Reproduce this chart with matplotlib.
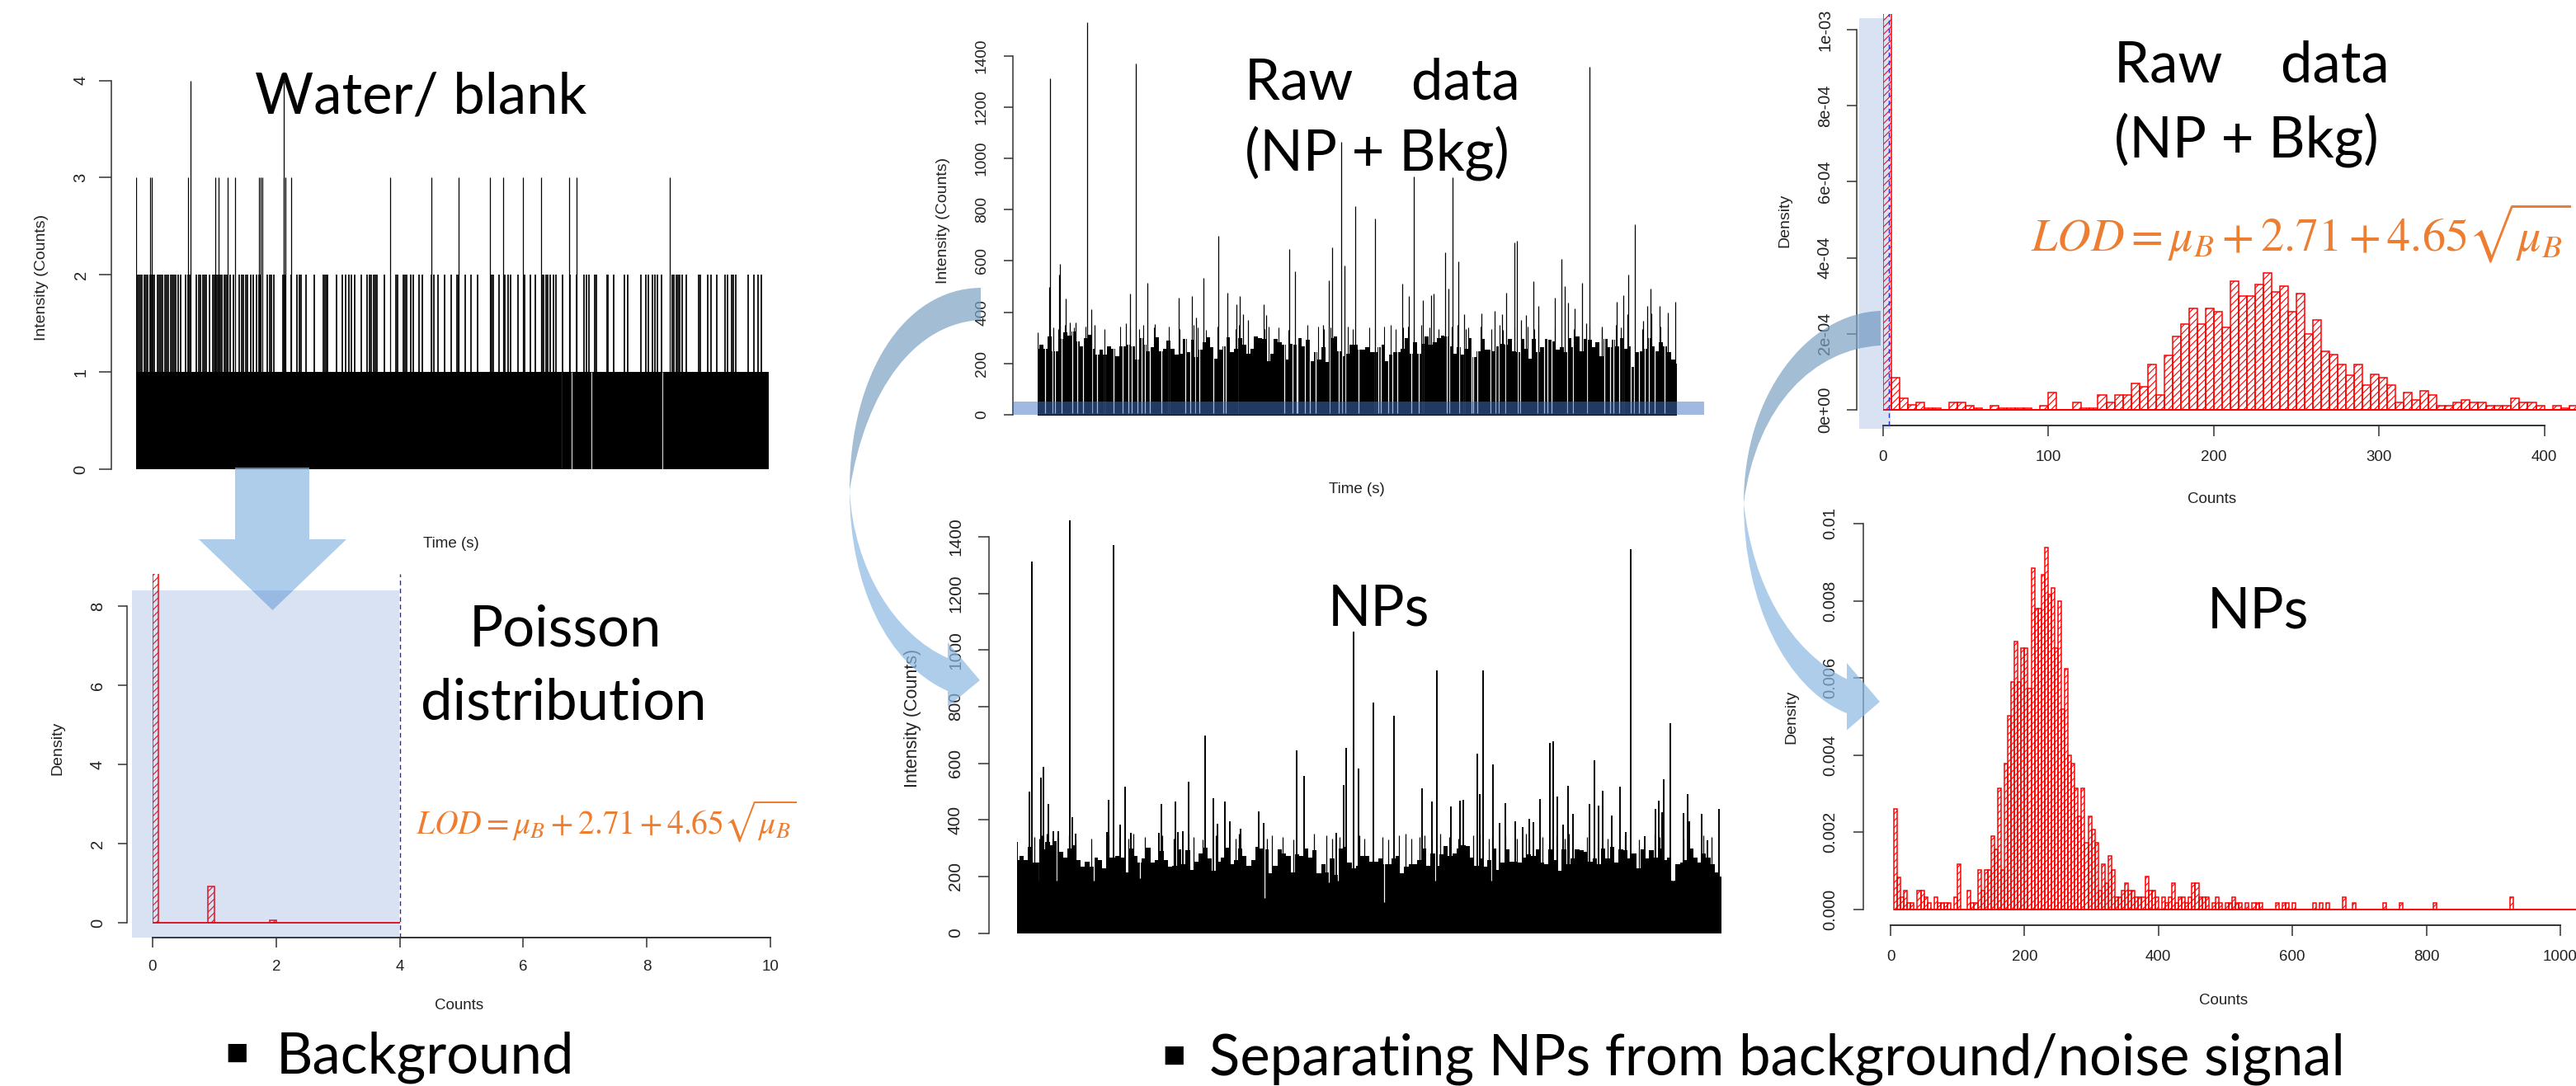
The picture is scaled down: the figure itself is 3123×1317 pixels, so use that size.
"""
Background / NP separation slide: time traces, histograms and annotations.
Panels and shapes are placed in pixel positions of the 3123x1317 slide image.
"""

import matplotlib

matplotlib.use("Agg")

import matplotlib.pyplot as plt
import numpy as np
from matplotlib.patches import PathPatch, Polygon, Rectangle
from matplotlib.path import Path
from matplotlib.transforms import Bbox

W, H = 3123, 1317
PT = 0.72  # points per pixel at dpi=100

plt.rcParams["font.family"] = ["Liberation Sans", "DejaVu Sans"]
plt.rcParams["mathtext.fontset"] = "stix"
plt.rcParams["hatch.linewidth"] = 0.8

# ---------------------------------------------------------------------------
# Data
# ---------------------------------------------------------------------------

# water blank trace, time in acquisition index
water_two_time = [
    260, 263, 266, 270, 274, 277, 281, 285, 288, 290, 293, 299, 303, 306, 309, 313, 316, 320,
    324, 327, 330, 334, 339, 344, 353, 358, 361, 373, 377, 381, 385, 389, 392, 398, 405, 408,
    412, 415, 418, 422, 426, 430, 433, 438, 444, 455, 459, 463, 467, 471, 476, 481, 487, 492,
    496, 508, 512, 516, 520, 538, 543, 553, 565, 569, 572, 581, 598, 614, 617, 620, 623, 640,
    650, 657, 663, 667, 674, 687, 698, 702, 706, 710, 713, 717, 730, 753, 756, 767, 770, 773,
    780, 786, 797, 803, 820, 825, 832, 845, 857, 868, 872, 884, 895, 907, 934, 938, 948, 960,
    965, 971, 985, 997, 1008, 1017, 1030, 1033, 1037, 1041, 1045, 1052, 1057, 1069, 1083, 1095,
    1110, 1114, 1119, 1130, 1133, 1153, 1156, 1167, 1186, 1193, 1218, 1228, 1232, 1240, 1244,
    1250, 1257, 1277, 1281, 1285, 1289, 1292, 1296, 1305, 1328, 1331, 1345, 1352, 1362, 1378,
    1382, 1390, 1394, 1398, 1422, 1433, 1440, 1447,
]
water_three_time = [
    258, 286, 288, 358, 409, 416, 432, 446, 492, 495, 498, 540, 542, 553, 741, 820, 872, 931,
    956, 994, 1028, 1081, 1095, 1273,
]
water_four_time = [362, 540]
water_gap_time = [1067, 1087, 1124, 1259]

# blank histogram
blank_left = [0.0, 0.9, 1.9]
blank_density = [9.0, 0.92, 0.07]
blank_lod = 4.0

# shared sample background level, NP trace read at even steps
bkg_level = [
    258, 273, 258, 306, 248, 248, 297, 321, 310, 326, 287, 268, 300, 311, 258, 234, 253, 234,
    268, 258, 229, 268, 268, 273, 268, 214, 300, 273, 248, 263, 302, 248, 258, 290, 258, 234,
    239, 295, 243, 292, 224, 253, 282, 302, 263, 219, 253, 268, 302, 243, 258, 300, 273, 239,
    258, 305, 300, 297, 210, 239, 297, 282, 273, 214, 277, 273, 300, 268, 292, 210, 243, 214,
    263, 205, 300, 305, 248, 229, 239, 273, 273,
    253, 253, 263, 243, 243, 263, 273, 210, 234, 243, 243, 258, 300, 239, 282, 239, 277, 307,
    273, 282, 300, 310, 307, 268, 239, 263, 234, 258, 300, 224, 248, 297, 253, 253, 248, 268,
    277, 273, 297, 248, 243, 297, 258, 219, 295, 243, 263, 297, 292, 287, 253, 263, 243, 300,
    263, 305, 248, 295, 292, 263, 282, 229, 297, 263, 292, 268, 300, 258, 268, 185, 243, 248,
    258, 300, 268, 248, 282, 268, 243, 214, 200,
]

raw_spike_time = [
    368, 389, 388, 406, 405, 417, 424, 433, 454, 461, 467, 538, 520, 527, 557, 570, 612, 634,
    642, 655, 680, 696, 712, 717, 722, 731, 758, 762, 802, 813, 861, 871, 876, 892, 898, 917,
    951, 997, 1009, 1017, 1033, 1047, 1052, 1072, 1077, 1084, 1094, 1104, 1134, 1157, 1170,
    1177, 1191, 1195, 1203, 1212, 1224, 1232, 1261, 1272, 1278, 1284, 1295, 1308, 1321, 1315,
    1343, 1368, 1379, 1388, 1386, 1399, 1414, 1421, 1426, 1428, 1442, 1456, 1469,
]
raw_spike_counts = [
    321, 1312, 498, 588, 548, 454, 360, 360, 1530, 410, 350, 1369, 358, 472, 515, 354, 456, 463,
    378, 535, 697, 476, 430, 463, 393, 371, 430, 388, 645, 558, 352, 525, 653, 1065, 581, 815,
    765, 512, 463, 929, 446, 467, 472, 632, 493, 926, 597, 391, 395, 404, 391,
    476, 673, 677, 371, 388, 521, 424, 456, 607, 503, 437, 415, 516, 1357, 358,
    345, 441, 466, 545, 391, 743, 365, 424, 492, 394, 424, 398, 440,
]
# thin lines rising just above the background, in raw-trace index
thin_spike_time = [
    395, 403, 407, 415, 423, 431, 450, 460, 484, 511, 528, 543, 550, 569, 595, 613, 637, 644,
    659, 679, 710, 716, 760, 767, 784, 801, 834, 853, 862, 874, 904, 912, 941, 950, 966, 977,
    986, 999, 1007, 1018, 1031, 1045, 1060, 1083, 1093, 1108, 1112, 1133, 1152, 1166, 1171,
    1192, 1214, 1226, 1233, 1261, 1294, 1321, 1343, 1367, 1375, 1412, 1443, 1457,
]
thin_spike_counts = [
    340, 335, 345, 350, 335, 340, 345, 330, 335, 345, 340, 335, 350, 340, 345, 335, 350, 340,
    330, 345, 335, 350, 335, 345, 340, 330, 350, 345, 335, 340, 345, 335, 340, 330, 345, 350,
    335, 340, 345, 330, 350, 340, 335, 345, 350, 335, 340, 345, 335, 350, 330,
    340, 345, 335, 350, 340, 335, 345, 330, 350, 340, 335, 345, 340,
]
raw_dropout_time = [
    381, 393, 398, 409, 428, 436, 447, 462, 471, 484, 499, 515, 524, 531, 541, 548, 553, 562,
    582, 594, 623, 631, 640, 647, 672, 689, 693, 715, 794, 808, 815, 817, 830, 838, 848, 872,
    888, 893, 900, 922, 950, 956, 961, 974, 980, 989, 1013, 1026, 1033, 1074, 1079, 1096, 1105,
    1117, 1120, 1127, 1150, 1159, 1164, 1176, 1197, 1202, 1231, 1242, 1248, 1255, 1283, 1292,
    1317, 1347, 1357, 1363, 1372, 1380, 1392, 1398, 1406, 1417, 1424, 1433, 1451,
]

np_spike_time = [
    332, 353, 357, 373, 378, 386, 395, 403, 423, 427, 433, 490, 487, 499, 510, 518, 528, 577,
    582, 605, 610, 618, 628, 657, 671, 678, 691, 699, 718, 750, 758, 815, 828, 884, 896, 900,
    914, 922, 948, 983, 1031, 1049, 1058, 1081, 1097, 1103, 1127, 1132, 1137, 1154, 1165, 1175,
    1193, 1205, 1217, 1224, 1236, 1252, 1258, 1265, 1275, 1284, 1293, 1321, 1330, 1337, 1344,
    1359, 1374, 1383, 1392, 1416, 1435, 1441, 1447, 1449, 1460, 1483, 1490, 1494, 1515, 1525,
    1545,
]
np_spike_counts = [
    321, 500, 1312, 548, 588, 455, 361, 361, 1530, 409, 351, 471, 357, 1370, 383, 517, 354, 354,
    455, 464, 357, 361, 536, 698, 477, 386, 464, 394, 370, 431, 390, 646, 556, 355, 523, 653,
    1066, 580, 815, 767, 512, 464, 929, 447, 468, 472, 633, 491, 929, 597, 390, 460,
    395, 374, 403, 392, 474, 672, 677, 483, 382, 519, 422, 455, 610, 451, 504,
    416, 517, 356, 1357, 342, 439, 468, 426, 544, 742, 424, 492, 395, 422, 329,
    439,
]
np_notch_time = [370, 401, 464, 544, 759, 870, 886, 966, 1055, 1151, 1465]
np_notch_counts = [185, 185, 185, 195, 124, 178, 185, 110, 185, 185, 185]

# raw sample histogram, 5-count bins starting at 0, density in 1e-4
raw_hist_density = [
    11.0, 0.855, 0.305, 0.12, 0.2, 0.05, 0.05, 0.0, 0.2, 0.2, 0.11, 0.05, 0.0, 0.11, 0.05, 0.05,
    0.05, 0.05, 0.0, 0.11, 0.45, 0.0, 0.0, 0.2, 0.05, 0.05, 0.4, 0.2, 0.4, 0.4, 0.7, 0.6, 1.19,
    0.4, 1.44, 1.93, 2.26, 2.67, 2.26, 2.67, 2.58, 2.17, 3.39, 3.0, 3.0, 3.3, 3.6, 3.1, 3.26,
    2.58, 3.06, 1.99, 2.37, 1.53, 1.45, 1.19, 0.92, 1.19, 0.65, 0.94, 0.855, 0.65, 0.2, 0.45,
    0.25, 0.5, 0.4, 0.11, 0.11, 0.2, 0.25, 0.2, 0.2, 0.11, 0.11, 0.11, 0.3, 0.2, 0.2, 0.11, 0.0,
    0.11, 0.05, 0.11,
]
raw_lod = 3.5

# NP histogram, 5-count bins starting at 5, density in 1e-3
np_hist_density = [
    2.61, 0.84, 0.33, 0.5, 0.16, 0.16, 0.0, 0.5, 0.5, 0.33, 0.16, 0.0, 0.33, 0.16, 0.16, 0.16,
    0.16, 0.0, 0.33, 1.18, 0.0, 0.0, 0.5, 0.16, 0.16, 1.02, 0.5, 1.02, 1.02, 1.9, 1.56, 3.13,
    1.02, 3.79, 5.02, 5.9, 6.94, 5.9, 6.77, 6.77, 5.73, 8.84, 7.79, 7.79, 8.67, 9.38, 8.16, 8.34,
    6.77, 7.99, 5.2, 6.23, 4.0, 3.79, 3.13, 2.41, 3.13, 1.73, 2.41, 2.07, 1.73, 0.5, 1.18, 0.68,
    1.38, 1.02, 0.33, 0.33, 0.5, 0.68, 0.5, 0.5, 0.33, 0.33, 0.33, 0.86, 0.5, 0.5, 0.33, 0.0,
    0.33, 0.16, 0.33, 0.68, 0.16, 0.33, 0.33, 0.16, 0.33, 0.68, 0.68, 0.33, 0.33, 0.33, 0.0,
    0.16, 0.33, 0.16, 0.0, 0.16, 0.16, 0.33, 0.16, 0.16, 0.0, 0.16, 0.0, 0.16, 0.16, 0.16,
]
np_tail_left = [575, 585, 590, 600, 630, 640, 650, 675, 690, 735, 760, 810, 925]
np_tail_density = [0.16, 0.16, 0.16, 0.16, 0.16, 0.16, 0.16, 0.33, 0.16, 0.16, 0.16, 0.16, 0.33]

LOD_TEXT = r"$LOD = \mu_B + 2.71 + 4.65\sqrt{\mu_B}$"

# ---------------------------------------------------------------------------
# Helpers
# ---------------------------------------------------------------------------

fig = plt.figure(figsize=(W / 100, H / 100), dpi=100, facecolor="white")


def panel_axes(left, top, right, bottom, xlim, ylim):
    ax = fig.add_axes([left / W, 1 - bottom / H, (right - left) / W, (bottom - top) / H])
    ax.set_xlim(*xlim)
    ax.set_ylim(*ylim)
    ax.patch.set_visible(False)
    for side in ("top", "right", "bottom", "left"):
        ax.spines[side].set_visible(False)
    ax.set_xticks([])
    return ax


def style_y(ax, ticks, labels, offset, tick_len, pad, size=14.5):
    spine = ax.spines["left"]
    spine.set_visible(True)
    spine.set_position(("outward", offset * PT))
    spine.set_bounds(ticks[0], ticks[-1])
    spine.set_color("#333333")
    spine.set_linewidth(1.1)
    ax.set_yticks(ticks, labels)
    ax.tick_params(axis="y", length=tick_len * PT, width=1.1, color="#333333",
                   pad=pad * PT, labelsize=size, labelcolor="#222222", labelrotation=90)
    for lbl in ax.get_yticklabels():
        lbl.set_va("center")


def style_x(ax, ticks, pad, tick_len=13, size=13.5):
    spine = ax.spines["bottom"]
    spine.set_visible(True)
    spine.set_bounds(ticks[0], ticks[-1])
    spine.set_color("#333333")
    spine.set_linewidth(1.4)
    ax.set_xticks(ticks, [str(t) for t in ticks])
    ax.tick_params(axis="x", length=tick_len * PT, width=1.1, color="#333333",
                   pad=pad * PT, labelsize=size, labelcolor="#222222")


def axis_labels(ax, xlabel, xpos, ylabel, ypos, size=14.0):
    if xlabel:
        ax.set_xlabel(xlabel, fontsize=13.5, color="#222222", va="center", ha="center")
        ax.xaxis.set_label_coords(*xpos, transform=overlay.transData)
    ax.set_ylabel(ylabel, fontsize=size, color="#222222", va="center", ha="center")
    ax.yaxis.set_label_coords(*ypos, transform=overlay.transData)


def hist_bars(ax, left, heights, width):
    ax.bar(left, heights, width=width, align="edge", fill=False, edgecolor="#FF0000",
           hatch="////", linewidth=1.1)


def big_text(x, y, s, ha="center", size=49.5):
    overlay.text(x, y, s, ha=ha, va="center", fontsize=size, color="black",
                 family=["Lato", "DejaVu Sans"], zorder=6)


def bezier_shape(verts, color):
    codes = [Path.MOVETO]
    pts = [verts[0]]
    for v in verts[1:]:
        if v[0] == "L":
            codes.append(Path.LINETO)
            pts.append(v[1])
        else:
            codes.extend([Path.CURVE4] * 3)
            pts.extend(v)
    codes.append(Path.CLOSEPOLY)
    pts.append(verts[0])
    overlay.add_patch(PathPatch(Path(pts, codes), facecolor=color, edgecolor="none",
                                alpha=0.7, zorder=2))


# overlay with y down, in slide pixels; shapes and big text go here
overlay = fig.add_axes([0, 0, 1, 1], zorder=10)
overlay.set_xlim(0, W)
overlay.set_ylim(H, 0)
overlay.axis("off")
overlay.patch.set_visible(False)

# ---------------------------------------------------------------------------
# Water / blank trace
# ---------------------------------------------------------------------------

ax = panel_axes(164.6, 97.6, 932, 569, (258, 1461), (0, 4))
ax.fill_between([258, 1461], 0, 1, color="black", linewidth=0)
ax.vlines(water_gap_time, 0, 1, color="#DDDDDD", linewidth=0.8)
ax.vlines(water_two_time, 0, 2, color="black", linewidth=1.25)
ax.vlines(water_three_time, 0, 3, color="black", linewidth=0.9)
ax.vlines(water_four_time, 0, 4, color="black", linewidth=0.9)
style_y(ax, [0, 1, 2, 3, 4], ["0", "1", "2", "3", "4"], 30, 15, 12)
axis_labels(ax, None, None, "Intensity (Counts)", (51, 336))
overlay.text(547, 659, "Time (s)", ha="center", va="center", fontsize=13.5, color="#222222")

# ---------------------------------------------------------------------------
# Blank histogram
# ---------------------------------------------------------------------------

ax = panel_axes(185, 696, 934, 1137, (0, 10), (-0.375, 8.81))
hist_bars(ax, blank_left, blank_density, 0.1)
ax.hlines(0, 0, blank_lod, color="#FF0000", linewidth=1.4)
ax.vlines(blank_lod, -0.375, 8.81, color="#2020D0", linewidth=1.0, linestyles=(0, (4, 3)),
          clip_on=False)
style_y(ax, [0, 2, 4, 6, 8], ["0", "2", "4", "6", "8"], 31, 11, 15)
style_x(ax, [0, 2, 4, 6, 8, 10], 15, 12)
axis_labels(ax, "Counts", (557, 1220), "Density", (70, 907))

# ---------------------------------------------------------------------------
# Raw sample trace
# ---------------------------------------------------------------------------

raw_xlim = (368, 1472)
ax = panel_axes(1258, 24, 2033, 503, raw_xlim, (0, 1540))
t_raw = np.linspace(raw_xlim[0], raw_xlim[1], len(bkg_level))
ax.fill_between(t_raw, 0, bkg_level, step="mid", color="black", linewidth=0)
ax.vlines(raw_dropout_time, 5, 440, color="white", linewidth=0.9)
ax.vlines(thin_spike_time, 0, thin_spike_counts, color="black", linewidth=0.8)
ax.vlines(raw_spike_time, 0, raw_spike_counts, color="black", linewidth=0.9)
ax.hlines(0, *raw_xlim, color="black", linewidth=1.4, clip_on=False)
style_y(ax, [0, 200, 400, 600, 800, 1000, 1200, 1400],
        ["0", "200", "400", "600", "800", "1000", "1200", "1400"], 30, 11, 18, 13.8)
axis_labels(ax, None, None, "Intensity (Counts)", (1144, 267))
overlay.text(1645, 594, "Time (s)", ha="center", va="center", fontsize=13.5, color="#222222")

# ---------------------------------------------------------------------------
# NP trace
# ---------------------------------------------------------------------------

np_xlim = (332, 1549)
ax = panel_axes(1233, 631, 2087, 1131.6, np_xlim, (0, 1458))
t_np = np.linspace(np_xlim[0], np_xlim[1], len(bkg_level))
thin_np_time = np.interp(thin_spike_time, raw_xlim, np_xlim)
ax.fill_between(t_np, 0, bkg_level, step="mid", color="black", linewidth=0)
ax.vlines(np_notch_time, np_notch_counts, 440, color="white", linewidth=0.9)
ax.vlines(thin_np_time, 0, thin_spike_counts, color="black", linewidth=0.9)
ax.vlines(np_spike_time, 0, np_spike_counts, color="black", linewidth=1.4)
style_y(ax, [0, 200, 400, 600, 800, 1000, 1200, 1400],
        ["0", "200", "400", "600", "800", "1000", "1200", "1400"], 34, 13, 18, 15)
axis_labels(ax, None, None, "Intensity (Counts)", (1107, 871), 15.5)
label_clip = Bbox([[0, 0], [W, H - 631]])
for lbl in ax.get_yticklabels():
    lbl.set_clip_box(label_clip)
    lbl.set_clip_on(True)

# ---------------------------------------------------------------------------
# Raw histogram
# ---------------------------------------------------------------------------

ax = panel_axes(2283, 17, 3123, 516, (0, 419.2), (-4.12e-5, 1.041e-3))
hist_bars(ax, np.arange(len(raw_hist_density)) * 5, np.array(raw_hist_density) * 1e-4, 5)
ax.hlines(0, 0, 419.2, color="#FF0000", linewidth=1.4)
ax.vlines(raw_lod, -4.12e-5, 1.041e-3, color="#2020D0", linewidth=1.0, linestyles=(0, (4, 3)),
          clip_on=False)
style_y(ax, [0, 2e-4, 4e-4, 6e-4, 8e-4, 1e-3],
        ["0e+00", "2e-04", "4e-04", "6e-04", "8e-04", "1e-03"], 32, 12, 17)
style_x(ax, [0, 100, 200, 300, 400], 17)
axis_labels(ax, "Counts", (2682, 605.5), "Density", (2164, 267))

# ---------------------------------------------------------------------------
# NP histogram
# ---------------------------------------------------------------------------

ax = panel_axes(2292, 635, 3123, 1122, (0, 1023.4), (-4.07e-4, 1.0e-2))
hist_bars(ax, 5 + np.arange(len(np_hist_density)) * 5, np.array(np_hist_density) * 1e-3, 5)
hist_bars(ax, np_tail_left, np.array(np_tail_density) * 1e-3, 5)
ax.hlines(0, 5, 1023.4, color="#FF0000", linewidth=1.4)
style_y(ax, [0, 0.002, 0.004, 0.006, 0.008, 0.01],
        ["0.000", "0.002", "0.004", "0.006", "0.008", "0.01"], 33.5, 12, 18)
style_x(ax, [0, 200, 400, 600, 800, 1000], 17)
axis_labels(ax, "Counts", (2696, 1213), "Density", (2172, 869))

# ---------------------------------------------------------------------------
# Arrows, highlight boxes
# ---------------------------------------------------------------------------

BACK = "#7CA1C3"
FRONT = "#8BB8E2"

overlay.add_patch(Polygon(
    [(285, 567), (375, 567), (375, 654), (420, 654), (330.5, 740), (241, 654), (285, 654)],
    closed=True, facecolor=FRONT, edgecolor="none", alpha=0.7, zorder=2))

# curved arrow between the two traces
bezier_shape([(1189, 349), [(1095, 350), (1030, 455), (1030, 595)],
              [(1050, 470), (1110, 392), (1189, 388)]], BACK)
bezier_shape([(1030, 595), [(1030, 710), (1075, 805), (1149, 838)],
              ("L", (1149, 857)), ("L", (1188, 825)), ("L", (1149, 779)), ("L", (1149, 798)),
              [(1085, 770), (1035, 690), (1030, 595)]], FRONT)

# curved arrow between the two histograms
bezier_shape([(2280, 377), [(2190, 380), (2114, 480), (2114, 610)],
              [(2130, 490), (2200, 423), (2280, 419)]], BACK)
bezier_shape([(2114, 610), [(2114, 730), (2165, 835), (2239, 865)],
              ("L", (2239, 885.5)), ("L", (2279, 851)), ("L", (2239, 804)), ("L", (2239, 823.5)),
              [(2170, 790), (2125, 710), (2114, 610)]], FRONT)

overlay.add_patch(Rectangle((160, 716), 324, 421, facecolor="#4472C4", edgecolor="none",
                            alpha=0.2, zorder=3))
overlay.add_patch(Rectangle((2254, 22), 38.5, 497.5, facecolor="#4472C4", edgecolor="none",
                            alpha=0.2, zorder=3))
overlay.add_patch(Rectangle((1228, 487), 838, 16, facecolor="#4472C4", edgecolor="none",
                            alpha=0.5, zorder=3))

# ---------------------------------------------------------------------------
# Slide text
# ---------------------------------------------------------------------------

big_text(510, 118, "Water/ blank")
big_text(685, 764, "Poisson")
big_text(683, 853, "distribution")
big_text(1509, 101, "Raw    data", ha="left")
big_text(1509, 186, "(NP + Bkg)", ha="left")
big_text(1671, 739, "NPs")
big_text(2563, 80, "Raw    data", ha="left")
big_text(2563, 170, "(NP + Bkg)", ha="left")
big_text(2737, 742, "NPs")
big_text(335, 1282, "Background", ha="left")
big_text(1466, 1284, "Separating NPs from background/noise signal", ha="left")

for x, y in [(287, 1277), (1423, 1280)]:
    overlay.text(x, y, "\u25A0", ha="center", va="center", fontsize=21, color="black",
                 family="DejaVu Sans", zorder=6)

overlay.text(504, 996, LOD_TEXT, ha="left", va="center", fontsize=28.5, color="#ED7D31", zorder=6)
overlay.text(2462, 283, LOD_TEXT, ha="left", va="center", fontsize=40.5, color="#ED7D31", zorder=6)

fig.savefig("out.png", dpi=100, facecolor="white")
plt.close(fig)
